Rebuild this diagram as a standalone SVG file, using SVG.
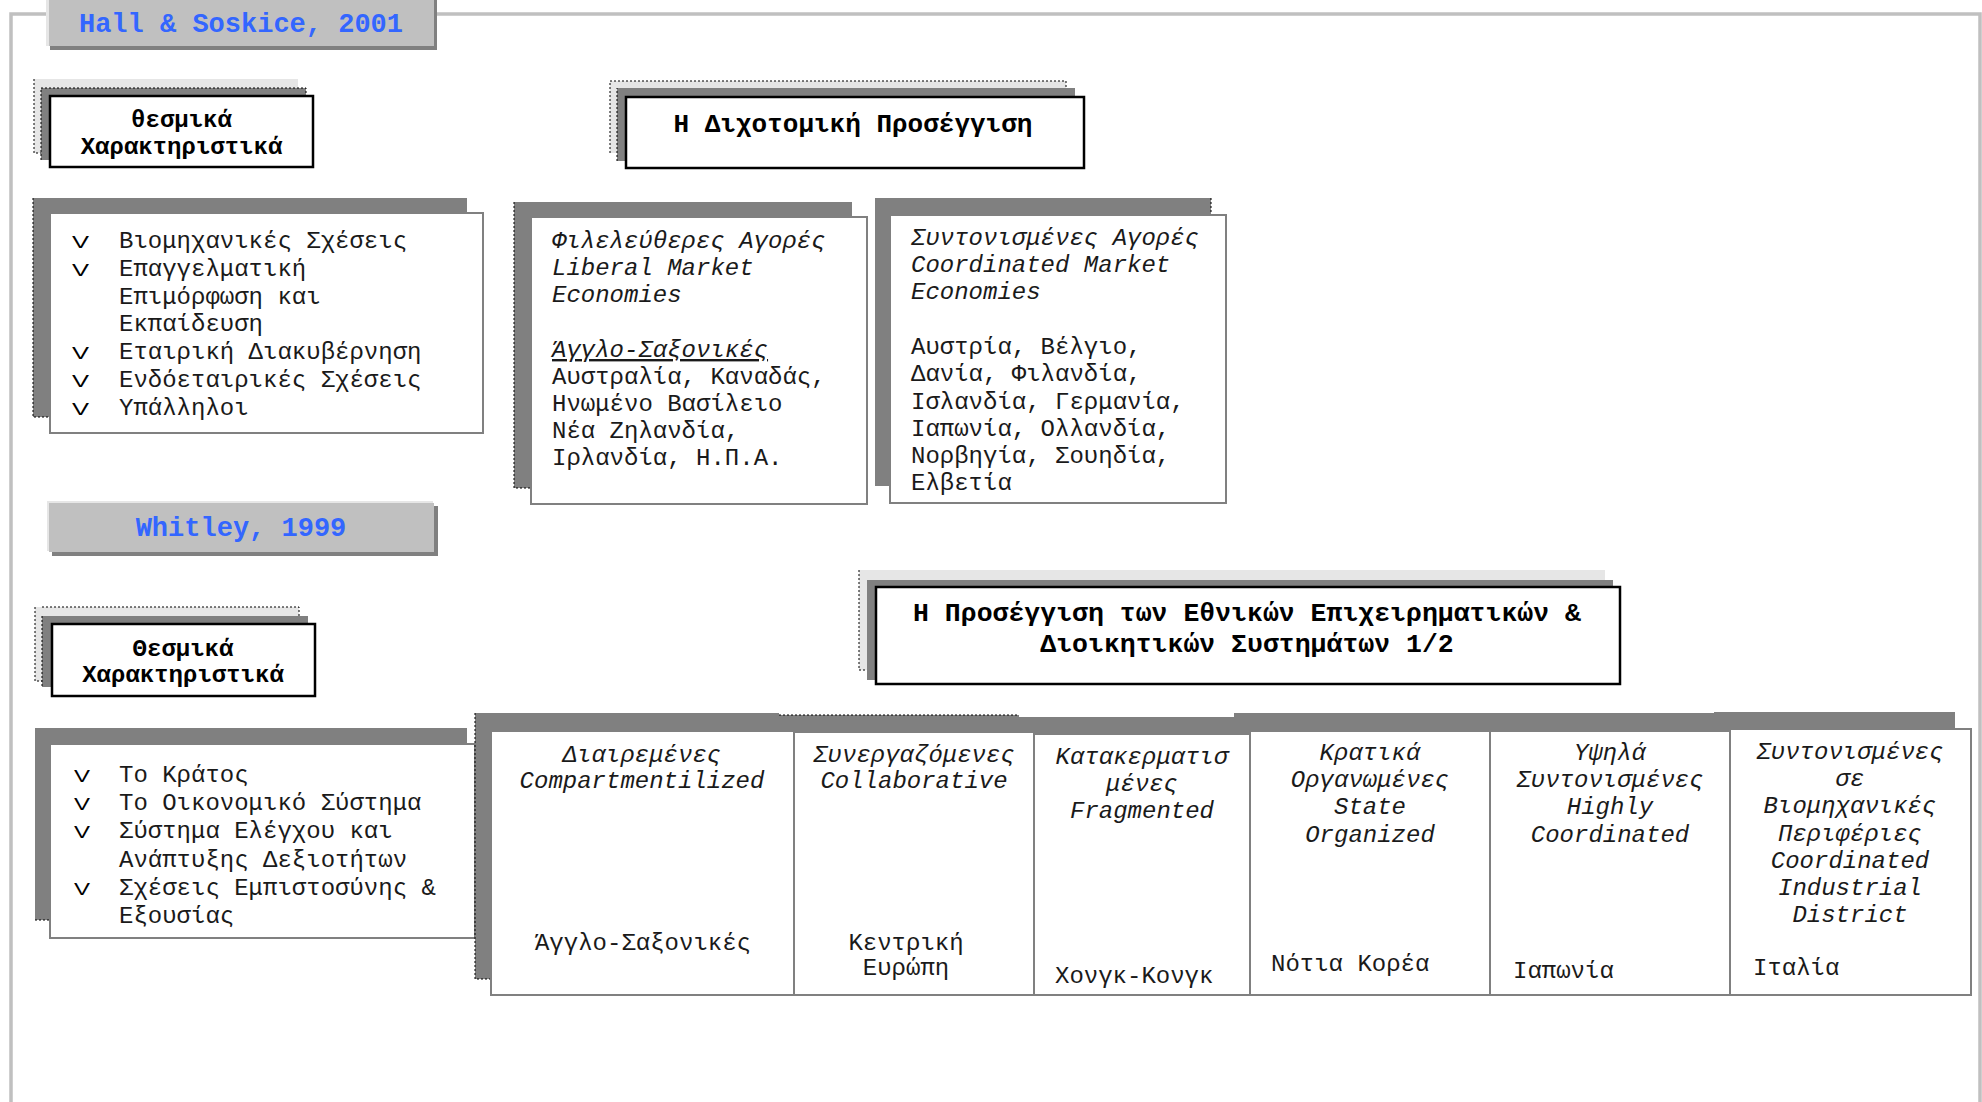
<svg xmlns="http://www.w3.org/2000/svg" width="1982" height="1102" viewBox="0 0 1982 1102">
<style>
text{font-family:"Liberation Mono","Courier New",monospace;fill:#000}
.t{font-size:24px;fill:#1a1a1a}
.i{font-style:italic}
.b{font-weight:bold;fill:#000}
.c{text-anchor:middle}
.hdr{font-size:27px;font-weight:bold;fill:#3366ff;text-anchor:middle}
.bul{font-family:"Liberation Sans",Arial,sans-serif;font-size:16px}
.lt{fill:#e6e6e6}
.dk{fill:#808080}
.hd{fill:#c0c0c0}
.wb{fill:#fff;stroke:#000;stroke-width:2.5}
.wg{fill:#fff;stroke:#808080;stroke-width:2}
.dot{fill:none;stroke:#000;stroke-width:1;stroke-dasharray:2 2}
</style>
<rect width="1982" height="1102" fill="#fff"/>
<path d="M11,1102V14H1980V1102" fill="none" stroke="#c0c0c0" stroke-width="3.5"/>

<g id="hall-soskice">
<rect class="dk" x="50" y="0" width="387" height="50"/>
<rect class="lt" x="46" y="-2" width="387" height="48"/>
<rect class="hd" x="49" y="-2" width="385" height="48"/>
<text class="hdr" x="241" y="32">Hall &amp; Soskice, 2001</text>
</g>

<g id="thesmika-1">
<rect class="lt" x="34" y="79" width="264" height="74"/>
<path class="dot" d="M34,79V153H41"/>
<rect class="dk" x="41" y="88" width="265" height="72"/>
<path class="dot" d="M41,160V88H306V95"/>
<rect class="wb" x="50" y="96" width="263" height="71"/>
<text class="t b c" x="181.5" y="127">θεσμικά</text>
<text class="t b c" x="181.5" y="154">Χαρακτηριστικά</text>
</g>

<g id="bullets-1">
<rect class="dk" x="33" y="198" width="434" height="219"/>
<path class="dot" d="M33,198V417H50"/>
<rect class="wg" x="50" y="213" width="433" height="220"/>
<text class="bul" x="72" y="248" textLength="17" lengthAdjust="spacingAndGlyphs">V</text>
<text class="bul" x="72" y="276" textLength="17" lengthAdjust="spacingAndGlyphs">V</text>
<text class="bul" x="72" y="359" textLength="17" lengthAdjust="spacingAndGlyphs">V</text>
<text class="bul" x="72" y="387" textLength="17" lengthAdjust="spacingAndGlyphs">V</text>
<text class="bul" x="72" y="415" textLength="17" lengthAdjust="spacingAndGlyphs">V</text>
<text class="t" x="119" y="248">Βιομηχανικές Σχέσεις</text>
<text class="t" x="119" y="276">Επαγγελματική</text>
<text class="t" x="119" y="304">Επιμόρφωση και</text>
<text class="t" x="119" y="331">Εκπαίδευση</text>
<text class="t" x="119" y="359">Εταιρική Διακυβέρνηση</text>
<text class="t" x="119" y="387">Ενδόεταιρικές Σχέσεις</text>
<text class="t" x="119" y="415">Υπάλληλοι</text>
</g>

<g id="dichotomiki">
<rect class="lt" x="610" y="81" width="456" height="72"/>
<path class="dot" d="M610,153V81H1066V88"/>
<rect class="dk" x="617" y="88" width="458" height="73"/>
<path class="dot" d="M617,161V88"/>
<rect class="wb" x="626" y="97" width="458" height="71"/>
<text class="b c" style="font-size:26px" x="853" y="132">Η Διχοτομική Προσέγγιση</text>
</g>

<g id="liberal">
<rect class="dk" x="514" y="202" width="338" height="286"/>
<path class="dot" d="M514,202V488H531"/>
<rect class="wg" x="531" y="217" width="336" height="287"/>
<text class="t i" x="552" y="248">Φιλελεύθερες Αγορές</text>
<text class="t i" x="552" y="275">Liberal Market</text>
<text class="t i" x="552" y="302">Economies</text>
<text class="t i" x="552" y="357" text-decoration="underline">Άγγλο-Σαξονικές</text>
<text class="t" x="552" y="384">Αυστραλία, Καναδάς,</text>
<text class="t" x="552" y="411">Ηνωμένο Βασίλειο</text>
<text class="t" x="552" y="438">Νέα Ζηλανδία,</text>
<text class="t" x="552" y="465">Ιρλανδία, Η.Π.Α.</text>
</g>

<g id="coordinated">
<rect class="dk" x="875" y="198" width="336" height="288"/>
<path class="dot" d="M1211,198V215"/>
<rect class="wg" x="890" y="215" width="336" height="288"/>
<text class="t i" x="911" y="245">Συντονισμένες Αγορές</text>
<text class="t i" x="911" y="272">Coordinated Market</text>
<text class="t i" x="911" y="299">Economies</text>
<text class="t" x="911" y="354">Αυστρία, Βέλγιο,</text>
<text class="t" x="911" y="381">Δανία, Φιλανδία,</text>
<text class="t" x="911" y="409">Ισλανδία, Γερμανία,</text>
<text class="t" x="911" y="436">Ιαπωνία, Ολλανδία,</text>
<text class="t" x="911" y="463">Νορβηγία, Σουηδία,</text>
<text class="t" x="911" y="490">Ελβετία</text>
</g>

<g id="whitley">
<rect class="dk" x="52" y="506" width="386" height="50"/>
<rect class="lt" x="47" y="501" width="386" height="50"/>
<rect class="hd" x="49" y="503" width="385" height="49"/>
<text class="hdr" x="241" y="536">Whitley, 1999</text>
</g>

<g id="thesmika-2">
<rect class="lt" x="35" y="607" width="264" height="74"/>
<path class="dot" d="M42,607H299V616M35,607V681H42"/>
<rect class="dk" x="42" y="616" width="266" height="71"/>
<path class="dot" d="M42,616V687"/>
<rect class="wb" x="52" y="624" width="263" height="72"/>
<text class="t b c" x="183" y="656">Θεσμικά</text>
<text class="t b c" x="183" y="682">Χαρακτηριστικά</text>
</g>

<g id="bullets-2">
<rect class="dk" x="35" y="728" width="432" height="192"/>
<path class="dot" d="M35,920H50"/>
<rect class="wg" x="50" y="744" width="425" height="194"/>
<text class="bul" x="74" y="782" textLength="16" lengthAdjust="spacingAndGlyphs">V</text>
<text class="bul" x="74" y="810" textLength="16" lengthAdjust="spacingAndGlyphs">V</text>
<text class="bul" x="74" y="838" textLength="16" lengthAdjust="spacingAndGlyphs">V</text>
<text class="bul" x="74" y="895" textLength="16" lengthAdjust="spacingAndGlyphs">V</text>
<text class="t" x="119" y="782">Το Κράτος</text>
<text class="t" x="119" y="810">Το Οικονομικό Σύστημα</text>
<text class="t" x="119" y="838">Σύστημα Ελέγχου και</text>
<text class="t" x="119" y="867">Ανάπτυξης Δεξιοτήτων</text>
<text class="t" x="119" y="895">Σχέσεις Εμπιστοσύνης &amp;</text>
<text class="t" x="119" y="923">Εξουσίας</text>
</g>

<g id="national-systems-title">
<rect class="lt" x="859" y="570" width="746" height="100"/>
<path class="dot" d="M859,570V670H867"/>
<rect class="dk" x="867" y="580" width="746" height="100"/>
<rect class="wb" x="876" y="587" width="744" height="97"/>
<text class="b c" style="font-size:26.5px" x="1247" y="621">Η Προσέγγιση των Εθνικών Επιχειρηματικών &amp;</text>
<text class="b c" style="font-size:26.5px" x="1247" y="652">Διοικητικών Συστημάτων 1/2</text>
</g>

<g id="table-shadows">
<rect class="dk" x="475" y="713" width="304" height="266"/>
<path class="dot" d="M475,713V979H491"/>
<rect class="dk" x="779" y="715" width="240" height="262"/>
<path class="dot" d="M779,715H1019"/>
<rect class="dk" x="1018" y="717" width="216" height="262"/>
<rect class="dk" x="1234" y="713" width="240" height="262"/>
<rect class="dk" x="1474" y="713" width="240" height="262"/>
<rect class="dk" x="1714" y="712" width="241" height="262"/>
</g>

<g id="cell-compartmentalized">
<rect class="wg" x="491" y="731" width="303" height="264"/>
<text class="t i c" x="642" y="762">Διαιρεμένες</text>
<text class="t i c" x="642" y="788">Compartmentilized</text>
<text class="t c" x="643" y="950">Άγγλο-Σαξονικές</text>
</g>
<g id="cell-collaborative">
<rect class="wg" x="794" y="732" width="240" height="263"/>
<text class="t i c" x="914" y="762">Συνεργαζόμενες</text>
<text class="t i c" x="914" y="788">Collaborative</text>
<text class="t c" x="906" y="950">Κεντρική</text>
<text class="t c" x="906" y="975">Ευρώπη</text>
</g>
<g id="cell-fragmented">
<rect class="wg" x="1034" y="734" width="216" height="261"/>
<text class="t i c" x="1142" y="764">Κατακερματισ</text>
<text class="t i c" x="1142" y="791">μένες</text>
<text class="t i c" x="1142" y="818">Fragmented</text>
<text class="t" x="1055" y="983">Χονγκ-Κονγκ</text>
</g>
<g id="cell-state-organized">
<rect class="wg" x="1250" y="731" width="240" height="264"/>
<text class="t i c" x="1370" y="760">Κρατικά</text>
<text class="t i c" x="1370" y="787">Οργανωμένες</text>
<text class="t i c" x="1370" y="814">State</text>
<text class="t i c" x="1370" y="842">Organized</text>
<text class="t" x="1271" y="971">Νότια Κορέα</text>
</g>
<g id="cell-highly-coordinated">
<rect class="wg" x="1490" y="731" width="240" height="264"/>
<text class="t i c" x="1610" y="760">Υψηλά</text>
<text class="t i c" x="1610" y="787">Συντονισμένες</text>
<text class="t i c" x="1610" y="814">Highly</text>
<text class="t i c" x="1610" y="842">Coordinated</text>
<text class="t" x="1513" y="978">Ιαπωνία</text>
</g>
<g id="cell-industrial-district">
<rect class="wg" x="1730" y="729" width="241" height="266"/>
<text class="t i c" x="1850" y="759">Συντονισμένες</text>
<text class="t i c" x="1850" y="786">σε</text>
<text class="t i c" x="1850" y="813">Βιομηχανικές</text>
<text class="t i c" x="1850" y="841">Περιφέριες</text>
<text class="t i c" x="1850" y="868">Coordinated</text>
<text class="t i c" x="1850" y="895">Industrial</text>
<text class="t i c" x="1850" y="922">District</text>
<text class="t" x="1753" y="975">Ιταλία</text>
</g>

<g id="connectors"></g>
</svg>
